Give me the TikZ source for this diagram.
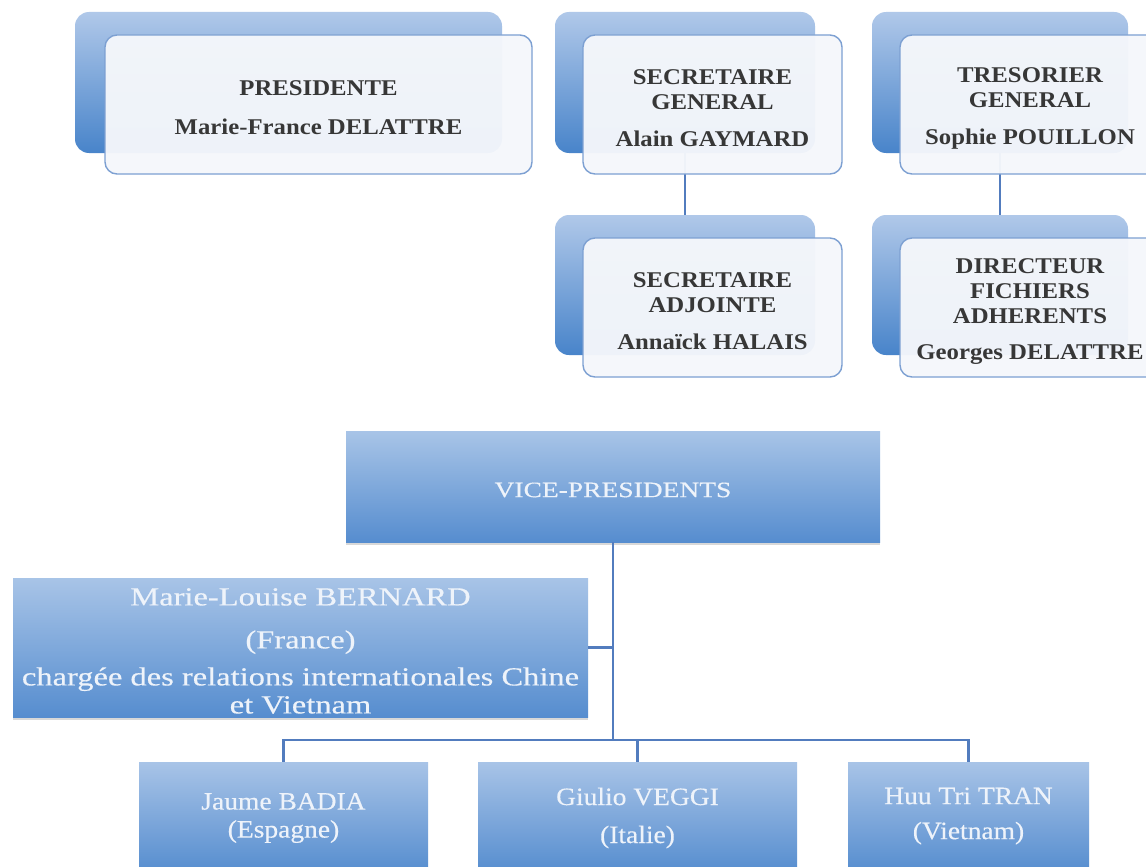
\documentclass[tikz,border=0pt]{standalone}
\usepackage{fontspec}
\setmainfont{Liberation Serif}[FakeStretch=1.1]
\newfontfamily\widefont{Liberation Serif}[FakeStretch=1.25,FakeBold=0.4]
\newfontfamily\softfont{Liberation Serif}[FakeStretch=1.1,FakeBold=0.4]
\usetikzlibrary{shadows}
\definecolor{backtop}{RGB}{176,200,233}
\definecolor{backbot}{RGB}{72,132,202}
\definecolor{frontfill}{RGB}{245,247,251}
\definecolor{frontline}{RGB}{125,160,210}
\definecolor{boxtop}{RGB}{168,196,231}
\definecolor{boxbot}{RGB}{86,141,207}
\definecolor{linkcol}{RGB}{82,124,190}
\definecolor{darktext}{RGB}{55,55,55}
\definecolor{lighttext}{RGB}{238,243,250}
\tikzset{
 backbox/.style={rectangle, rounded corners=14pt, top color=backtop, bottom color=backbot, draw=none, inner sep=0pt},
 frontbox/.style={rectangle, rounded corners=12pt, fill=frontfill, fill opacity=0.96, draw=frontline, line width=1.4pt, inner sep=0pt},
 fronttext/.style={align=center, text=darktext, font=\fontsize{22.5}{25}\selectfont\bfseries, inner sep=0pt},
 bluebox/.style={rectangle, top color=boxtop, bottom color=boxbot, draw=none, inner sep=0pt, drop shadow={shadow xshift=0pt, shadow yshift=-3pt, opacity=0.3}},
 widetext/.style={align=center, text=lighttext, font=\widefont\fontsize{26}{28}\selectfont, inner sep=0pt},
 softtext/.style={align=center, text=lighttext, font=\softfont\fontsize{25}{28}\selectfont, inner sep=0pt},
 link/.style={draw=linkcol, line width=2.2pt}
}
\begin{document}
\begin{tikzpicture}[x=1pt,y=-1pt]
\useasboundingbox (0,0) rectangle (1146,867);
\fill[white] (0,0) rectangle (1146,867);
% back boxes
\node[backbox, minimum width=427pt, minimum height=141pt] (presb) at (288.5,82.5) {};
\node[backbox, minimum width=260pt, minimum height=141pt] (secb) at (685,82.5) {};
\node[backbox, minimum width=256pt, minimum height=141pt] (tresb) at (1000,82.5) {};
\node[backbox, minimum width=260pt, minimum height=140pt] (adjb) at (685,285) {};
\node[backbox, minimum width=256pt, minimum height=140pt] (dirb) at (1000,285) {};
% top connectors
\draw[link] (secb.south) -- (adjb.north);
\draw[link] (tresb.south) -- (dirb.north);
% front boxes
\node[frontbox, minimum width=427pt, minimum height=139pt] (pres) at (318.5,104.5) {};
\node[frontbox, minimum width=259pt, minimum height=139pt] (sec) at (712.5,104.5) {};
\node[frontbox, minimum width=260pt, minimum height=139pt] (tres) at (1030,104.5) {};
\node[frontbox, minimum width=259pt, minimum height=139pt] (adj) at (712.5,307.5) {};
\node[frontbox, minimum width=260pt, minimum height=139pt] (dir) at (1030,307.5) {};
\node[fronttext] (prest) at (318.5,108) {PRESIDENTE\\[14pt]Marie-France DELATTRE};
\node[fronttext] (sect) at (712.5,108) {SECRETAIRE\\GENERAL\\[12pt]Alain GAYMARD};
\node[fronttext] (trest) at (1030,108) {TRESORIER\\GENERAL\\[12pt]Sophie POUILLON};
\node[fronttext] (adjt) at (712.5,311) {SECRETAIRE\\ADJOINTE\\[12pt]Annaïck HALAIS};
\node[fronttext] (dirt) at (1030,312) {DIRECTEUR\\FICHIERS\\ADHERENTS\\[11pt]Georges DELATTRE};
% blue boxes
\node[bluebox, minimum width=534pt, minimum height=111pt] (vp) at (613,486.5) {};
\node[widetext, font=\widefont\fontsize{22}{28}\selectfont] (vpt) at (613,490) {VICE-PRESIDENTS};
\node[bluebox, minimum width=575pt, minimum height=139pt] (ml) at (300.5,647.5) {};
\node[widetext] (mlt) at (300.5,651) {Marie-Louise BERNARD\\[15pt](France)\\[9pt]chargée des relations internationales Chine\\et Vietnam};
\node[bluebox, minimum width=289pt, minimum height=110pt] (jaume) at (283.5,817) {};
\node[bluebox, minimum width=319pt, minimum height=110pt] (giulio) at (637.5,817) {};
\node[bluebox, minimum width=241pt, minimum height=110pt] (huu) at (968.5,817) {};
\node[softtext] (jaumet) at (283.5,818) {Jaume BADIA\\(Espagne)};
\node[softtext] (giuliot) at (637.5,818) {Giulio VEGGI\\[10pt](Italie)};
\node[softtext] (huut) at (968.5,816) {Huu Tri TRAN\\[7pt](Vietnam)};
% bottom connectors
\coordinate (bus) at (613,740);
\draw[link] (vp.south) -- (bus);
\draw[link] (jaume.north) |- (bus) -| (huu.north);
\draw[link] (giulio.north) -- (giulio.north |- bus);
\draw[link] (ml.east) -- (ml.east -| bus);
\end{tikzpicture}
\end{document}
